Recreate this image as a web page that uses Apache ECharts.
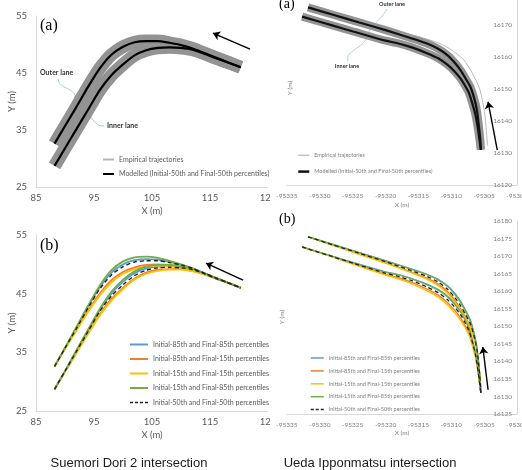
<!DOCTYPE html>
<html>
<head>
<meta charset="UTF-8">
<title>Trajectories</title>
<script src="https://cdn.jsdelivr.net/npm/echarts@6/dist/echarts.min.js"></script>
<style>
  * { margin: 0; padding: 0; }
  body { background: #fff; width: 522px; height: 470px; position: relative; overflow: hidden; }
  #left { position: absolute; left: 0; top: 0; width: 270px; height: 470px; }
  #right { position: absolute; left: 270px; top: 0; width: 252px; height: 470px; }
</style>
</head>
<body>
<div id="left"></div>
<div id="right"></div>
<script>
// Suemori Dori 2 (left column) - shared x positions
var sX = [88.2, 90, 92, 94, 96, 98, 100, 102, 104, 106, 108, 110, 112, 114, 116, 118, 120.3];
// outer lane
var sO50   = [32.6, 35.7, 39.1, 42.6, 45.8, 48.2, 49.6, 50.4, 50.6, 50.6, 50.3, 49.9, 49.3, 48.5, 47.7, 46.9, 46.0];
var sO8585 = [32.6, 35.7, 39.2, 42.8, 46.1, 48.6, 50.0, 50.7, 50.9, 50.8, 50.4, 49.9, 49.3, 48.5, 47.7, 46.9, 46.0];
var sO8515 = [32.6, 35.6, 38.9, 42.1, 45.0, 47.3, 48.7, 49.5, 49.9, 50.0, 49.9, 49.6, 49.1, 48.4, 47.7, 46.9, 46.0];
var sO1515 = [32.6, 35.6, 38.8, 41.9, 44.7, 46.9, 48.4, 49.2, 49.6, 49.8, 49.7, 49.5, 49.0, 48.4, 47.7, 46.9, 46.0];
var sO1585 = [32.6, 35.8, 39.4, 43.0, 46.4, 49.0, 50.5, 51.2, 51.3, 51.1, 50.6, 50.0, 49.3, 48.5, 47.7, 46.9, 46.0];
// inner lane
var sI50   = [28.7, 31.8, 35.2, 38.6, 42.0, 44.6, 46.5, 48.1, 49.0, 49.4, 49.5, 49.4, 49.1, 48.4, 47.6, 46.9, 46.0];
var sI8585 = [28.7, 31.8, 35.3, 38.8, 42.2, 45.0, 47.0, 48.5, 49.3, 49.6, 49.7, 49.5, 49.1, 48.4, 47.6, 46.9, 46.0];
var sI8515 = [28.7, 31.7, 35.0, 38.3, 41.5, 44.1, 46.0, 47.6, 48.6, 49.1, 49.2, 49.2, 48.9, 48.3, 47.6, 46.9, 46.0];
var sI1515 = [28.7, 31.7, 34.9, 38.2, 41.3, 43.8, 45.8, 47.4, 48.4, 48.9, 49.1, 49.1, 48.8, 48.3, 47.6, 46.9, 46.0];
var sI1585 = [28.7, 31.8, 35.4, 38.9, 42.4, 45.3, 47.4, 48.8, 49.6, 49.9, 49.9, 49.6, 49.2, 48.5, 47.6, 46.9, 46.0];
var sArrowA = [[121.9, 49.2], [115.5, 52.0]];
var sArrowB = [[120.7, 47.3], [114.3, 50.2]];

// Ueda Ipponmatsu (right column)
var uOX = [-95331.8, -95328, -95324, -95320, -95316, -95313.7, -95312, -95310.6, -95309.5, -95308.6, -95307.8, -95307.1, -95306.5, -95306.1, -95305.8, -95305.6, -95305.5];
var uO50   = [16175.5, 16173.2, 16170.8, 16168.4, 16165.8, 16164.2, 16162.6, 16160.6, 16158.3, 16155.9, 16153.2, 16150.7, 16147.0, 16143.4, 16138.5, 16134.5, 16131.0];
var uO8585 = [16175.5, 16173.3, 16171.0, 16168.7, 16166.3, 16164.8, 16163.4, 16161.6, 16159.5, 16157.2, 16154.5, 16151.8, 16147.8, 16143.9, 16138.8, 16134.6, 16131.0];
var uO8515 = [16175.5, 16173.1, 16170.6, 16168.1, 16165.4, 16163.7, 16162.0, 16159.9, 16157.5, 16155.0, 16152.4, 16150.0, 16146.5, 16143.1, 16138.3, 16134.4, 16131.0];
var uO1515 = [16175.5, 16173.1, 16170.5, 16168.0, 16165.2, 16163.4, 16161.6, 16159.4, 16157.0, 16154.5, 16152.0, 16149.6, 16146.2, 16142.9, 16138.2, 16134.4, 16131.0];
var uO1585 = [16175.5, 16173.3, 16171.0, 16168.6, 16166.2, 16164.7, 16163.2, 16161.4, 16159.2, 16156.8, 16154.1, 16151.4, 16147.5, 16143.7, 16138.7, 16134.6, 16131.0];
var uIX = [-95332.7, -95328, -95324.8, -95320, -95318.2, -95316, -95313.7, -95312, -95310.6, -95309.5, -95308.6, -95307.9, -95307.3, -95306.8, -95306.3, -95305.9, -95305.7, -95305.5];
var uI50   = [16172.6, 16169.8, 16167.9, 16165.1, 16164.3, 16163.0, 16161.2, 16159.6, 16157.6, 16155.5, 16153.3, 16151.0, 16148.7, 16145.5, 16141.7, 16137.0, 16134.0, 16131.0];
var uI8585 = [16172.6, 16169.9, 16168.1, 16165.5, 16164.8, 16163.6, 16162.0, 16160.5, 16158.6, 16156.6, 16154.4, 16152.0, 16149.6, 16146.2, 16142.2, 16137.3, 16134.2, 16131.0];
var uI8515 = [16172.6, 16169.7, 16167.7, 16164.8, 16163.9, 16162.5, 16160.6, 16158.9, 16156.8, 16154.6, 16152.4, 16150.2, 16148.0, 16144.9, 16141.3, 16136.8, 16133.9, 16131.0];
var uI1515 = [16172.6, 16169.7, 16167.6, 16164.6, 16163.6, 16162.1, 16160.1, 16158.3, 16156.1, 16153.9, 16151.7, 16149.6, 16147.5, 16144.5, 16141.0, 16136.6, 16133.8, 16131.0];
var uI1585 = [16172.6, 16169.9, 16168.0, 16165.4, 16164.7, 16163.5, 16161.8, 16160.3, 16158.4, 16156.3, 16154.1, 16151.7, 16149.3, 16146.0, 16142.0, 16137.2, 16134.1, 16131.0];
// one stray empirical trajectory outside the bend
var uStrayX = [-95318, -95314.7, -95311.1, -95308.1, -95305.8, -95304.9, -95304.5];
var uStrayY = [16167.5, 16166.2, 16163.6, 16159.1, 16150.7, 16142.0, 16132.3];
var uArrowA = [[-95303.0, 16130.9], [-95304.4, 16146.0]];
var uArrowB = [[-95304.4, 16131.9], [-95305.2, 16144.1]];

var N85 = 'Initial-85th and Final-85th percentiles';
var N8515 = 'Initial-85th and Final-15th percentiles';
var N15 = 'Initial-15th and Final-15th percentiles';
var N1585 = 'Initial-15th and Final-85th percentiles';
var N50 = 'Initial-50th and Final-50th percentiles';
var NEMP = 'Empirical trajectories';
var NMOD = 'Modelled (Initial-50th and Final-50th percentiles)';
var C = { blue: '#5b9bd5', orange: '#ed7d31', yellow: '#ffc000', green: '#70ad47' };

function zip(xs, ys) {
  var out = [];
  for (var i = 0; i < xs.length; i++) out.push([xs[i], ys[i]]);
  return out;
}
function plain(v) { return String(v); }

function line(name, g, xs, ys, color, width, dash) {
  return {
    name: name, type: 'line', xAxisIndex: g, yAxisIndex: g,
    data: zip(xs, ys), symbol: 'none', smooth: 0.25, clip: false, silent: true,
    itemStyle: { color: color },
    lineStyle: { color: color, width: width, type: dash ? [4, 3] : 'solid', cap: 'butt' }
  };
}
function arrow(s, pts) {
  s.markLine = {
    silent: true, symbol: ['none', 'arrow'], symbolSize: 7,
    label: { show: false },
    lineStyle: { color: '#000', width: 1.4, type: 'solid' },
    data: [[{ coord: pts[0] }, { coord: pts[1] }]]
  };
  return s;
}
// legend entry: line only, the centre symbol hidden
function key(name, color, width, dash) {
  return { name: name, itemStyle: { opacity: 0 }, lineStyle: { color: color, width: width, type: dash ? [3, 2] : 'solid' } };
}

// ---------- left column ----------
var lbl = { fontFamily: 'Lato', fontSize: 9.5, color: '#595959' };
function lx(g) {
  return {
    gridIndex: g, type: 'value', min: 85, max: 125, interval: 10,
    axisLine: { lineStyle: { color: '#d9d9d9' } }, axisTick: { show: false }, splitLine: { show: false },
    axisLabel: { fontFamily: 'Lato', fontSize: 9.5, color: '#595959', margin: 6, formatter: plain },
    name: 'X (m)', nameLocation: 'middle', nameGap: 19, nameMoveOverlap: false, nameTextStyle: lbl
  };
}
function ly(g) {
  return {
    gridIndex: g, type: 'value', min: 25, max: 55, interval: 10,
    axisLine: { show: true, lineStyle: { color: '#d9d9d9' } }, axisTick: { show: false }, splitLine: { show: false },
    axisLabel: { fontFamily: 'Lato', fontSize: 9.5, color: '#595959', margin: 9, formatter: plain },
    name: 'Y (m)', nameLocation: 'middle', nameGap: 19, nameMoveOverlap: false, nameTextStyle: lbl
  };
}

var leftSeries = [
  line(NEMP, 0, sX, sO50, '#939393', 13),
  line(NEMP, 0, sX, sI50, '#939393', 13),
  arrow(line(NMOD, 0, sX, sO50, '#000', 2.2), sArrowA),
  line(NMOD, 0, sX, sI50, '#000', 2.2),
  line(N85, 1, sX, sO8585, C.blue, 1.8),
  line(N85, 1, sX, sI8585, C.blue, 1.8),
  line(N8515, 1, sX, sO8515, C.orange, 1.8),
  line(N8515, 1, sX, sI8515, C.orange, 1.8),
  line(N15, 1, sX, sO1515, C.yellow, 1.8),
  line(N15, 1, sX, sI1515, C.yellow, 1.8),
  line(N1585, 1, sX, sO1585, C.green, 1.8),
  line(N1585, 1, sX, sI1585, C.green, 1.8),
  arrow(line(N50, 1, sX, sO50, '#222', 1.4, true), sArrowB),
  line(N50, 1, sX, sI50, '#222', 1.4, true)
];

var leftChart = echarts.init(document.getElementById('left'));
leftChart.setOption({
  animation: false,
  grid: [
    { left: 36, top: 16, width: 232, height: 171, outerBoundsMode: 'none' },
    { left: 36, top: 235, width: 232, height: 176, outerBoundsMode: 'none' }
  ],
  xAxis: [lx(0), lx(1)],
  yAxis: [ly(0), ly(1)],
  legend: [
    {
      left: 97, top: 151, orient: 'vertical', itemWidth: 11, itemHeight: 8, itemGap: 7.5, selectedMode: false,
      textStyle: { fontFamily: 'Lato', fontSize: 7, color: '#595959' },
      data: [key(NEMP, '#b5b5b5', 2), key(NMOD, '#000', 2)]
    },
    {
      left: 124, top: 336, orient: 'vertical', itemWidth: 18, itemHeight: 7, itemGap: 7.5, selectedMode: false,
      textStyle: { fontFamily: 'Lato', fontSize: 7, color: '#595959' },
      data: [key(N85, C.blue, 2), key(N8515, C.orange, 2), key(N15, C.yellow, 2), key(N1585, C.green, 2), key(N50, '#222', 1.5, true)]
    }
  ],
  graphic: [
    { type: 'text', x: 40, y: 18, style: { text: '(a)', fontFamily: 'Liberation Serif', fontSize: 16, fill: '#000' } },
    { type: 'text', x: 40, y: 238, style: { text: '(b)', fontFamily: 'Liberation Serif', fontSize: 16, fill: '#000' } },
    { type: 'text', x: 40, y: 69, style: { text: 'Outer lane', fontFamily: 'Lato', fontWeight: 'bold', fontSize: 7, fill: '#333' } },
    { type: 'text', x: 107, y: 122, style: { text: 'Inner lane', fontFamily: 'Lato', fontWeight: 'bold', fontSize: 7, fill: '#333' } },
    { type: 'bezierCurve', shape: { x1: 58, y1: 79, cpx1: 60, cpy1: 90, cpx2: 72, cpy2: 86, x2: 76, y2: 97 }, style: { stroke: '#9dc3e6', lineWidth: 0.9, fill: null } },
    { type: 'bezierCurve', shape: { x1: 104, y1: 126, cpx1: 92, cpy1: 127, cpx2: 92, cpy2: 112, x2: 84, y2: 109 }, style: { stroke: '#9dc3e6', lineWidth: 0.9, fill: null } },
    { type: 'circle', shape: { cx: 76, cy: 97, r: 1.5 }, style: { fill: '#5b9bd5' } },
    { type: 'circle', shape: { cx: 84, cy: 109, r: 1.5 }, style: { fill: '#5b9bd5' } },
    { type: 'text', x: 129, y: 457, style: { text: 'Suemori Dori 2 intersection', fontFamily: 'Liberation Sans', fontSize: 13, fill: '#1a1a1a', align: 'center' } }
  ],
  series: leftSeries
});

// ---------- right column ----------
var rl = { fontFamily: 'Lato', fontSize: 6.5, color: '#808080' };
function rx(g, gap) {
  return {
    gridIndex: g, type: 'value', min: -95335, max: -95300, interval: 5,
    axisLine: { onZero: false, lineStyle: { color: '#d9d9d9' } }, axisTick: { show: false }, splitLine: { show: false },
    axisLabel: { fontFamily: 'Lato', fontSize: 6.5, color: '#808080', margin: 7, formatter: plain },
    name: 'X (m)', nameLocation: 'middle', nameGap: gap, nameMoveOverlap: false, nameTextStyle: rl
  };
}
function ry(g, min, max, step) {
  return {
    gridIndex: g, type: 'value', position: 'right', min: min, max: max, interval: step,
    axisLine: { show: true, onZero: false, lineStyle: { color: '#d9d9d9' } }, axisTick: { show: false }, splitLine: { show: false },
    axisLabel: { inside: true, fontFamily: 'Lato', fontSize: 6.5, color: '#808080', margin: 5, formatter: plain }
  };
}

var rightSeries = [
  line(NEMP, 0, uOX, uO50, '#949494', 8),
  line(NEMP, 0, uIX, uI50, '#949494', 8),
  line(NEMP, 0, uStrayX, uStrayY, '#a8a8a8', 0.8),
  arrow(line(NMOD, 0, uOX, uO50, '#111', 2.2), uArrowA),
  line(NMOD, 0, uIX, uI50, '#111', 2.2),
  line(N85, 1, uOX, uO8585, C.blue, 1.4),
  line(N85, 1, uIX, uI8585, C.blue, 1.4),
  line(N8515, 1, uOX, uO8515, C.orange, 1.4),
  line(N8515, 1, uIX, uI8515, C.orange, 1.4),
  line(N15, 1, uOX, uO1515, C.yellow, 1.4),
  line(N15, 1, uIX, uI1515, C.yellow, 1.4),
  line(N1585, 1, uOX, uO1585, C.green, 1.4),
  line(N1585, 1, uIX, uI1585, C.green, 1.4),
  arrow(line(N50, 1, uOX, uO50, '#222', 1.3, true), uArrowB),
  line(N50, 1, uIX, uI50, '#222', 1.3, true)
];

var rightChart = echarts.init(document.getElementById('right'));
rightChart.setOption({
  animation: false,
  grid: [
    { left: 17, top: -7, width: 230, height: 192, outerBoundsMode: 'none' },
    { left: 17, top: 221, width: 230, height: 193, outerBoundsMode: 'none' }
  ],
  xAxis: [rx(0, 16), rx(1, 15)],
  yAxis: [ry(0, 16120, 16180, 10), ry(1, 16125, 16180, 5)],
  legend: [
    {
      left: 22, top: 147, orient: 'vertical', itemWidth: 11, itemHeight: 8, itemGap: 10, selectedMode: false,
      textStyle: { fontFamily: 'Lato', fontSize: 5.5, color: '#808080' },
      data: [key(NEMP, '#a6a6a6', 1), key(NMOD, '#111', 2.5)]
    },
    {
      left: 35, top: 350, orient: 'vertical', itemWidth: 13, itemHeight: 6, itemGap: 6.9, selectedMode: false,
      textStyle: { fontFamily: 'Lato', fontSize: 5.5, color: '#808080' },
      data: [key(N85, C.blue, 1.5), key(N8515, C.orange, 1.5), key(N15, C.yellow, 1.5), key(N1585, C.green, 1.5), key(N50, '#222', 1.5, true)]
    }
  ],
  graphic: [
    { type: 'text', x: 9, y: -3, style: { text: '(a)', fontFamily: 'Liberation Serif', fontSize: 14, fill: '#000' } },
    { type: 'text', x: 9, y: 212, style: { text: '(b)', fontFamily: 'Liberation Serif', fontSize: 14, fill: '#000' } },
    { type: 'text', x: 20, y: 88, rotation: Math.PI / 2, style: { text: 'Y (m)', fontFamily: 'Lato', fontSize: 6.5, fill: '#808080', align: 'center', verticalAlign: 'middle' } },
    { type: 'text', x: 12, y: 317, rotation: Math.PI / 2, style: { text: 'Y (m)', fontFamily: 'Lato', fontSize: 6.5, fill: '#808080', align: 'center', verticalAlign: 'middle' } },
    { type: 'text', x: 122, y: 1, style: { text: 'Outer lane', fontFamily: 'Lato', fontWeight: 'bold', fontSize: 5.5, fill: '#333', align: 'center' } },
    { type: 'text', x: 77, y: 63, style: { text: 'Inner lane', fontFamily: 'Lato', fontWeight: 'bold', fontSize: 5.5, fill: '#333', align: 'center' } },
    { type: 'bezierCurve', shape: { x1: 117, y1: 9, cpx1: 110, cpy1: 22, cpx2: 100, cpy2: 24, x2: 97, y2: 37 }, style: { stroke: '#9dc3e6', lineWidth: 0.8, fill: null } },
    { type: 'bezierCurve', shape: { x1: 78, y1: 61, cpx1: 75, cpy1: 50, cpx2: 93, cpy2: 49, x2: 97, y2: 37 }, style: { stroke: '#9dc3e6', lineWidth: 0.8, fill: null } },
    { type: 'text', x: 100, y: 457, style: { text: 'Ueda Ipponmatsu intersection', fontFamily: 'Liberation Sans', fontSize: 13, fill: '#1a1a1a', align: 'center' } }
  ],
  series: rightSeries
});
</script>
</body>
</html>
